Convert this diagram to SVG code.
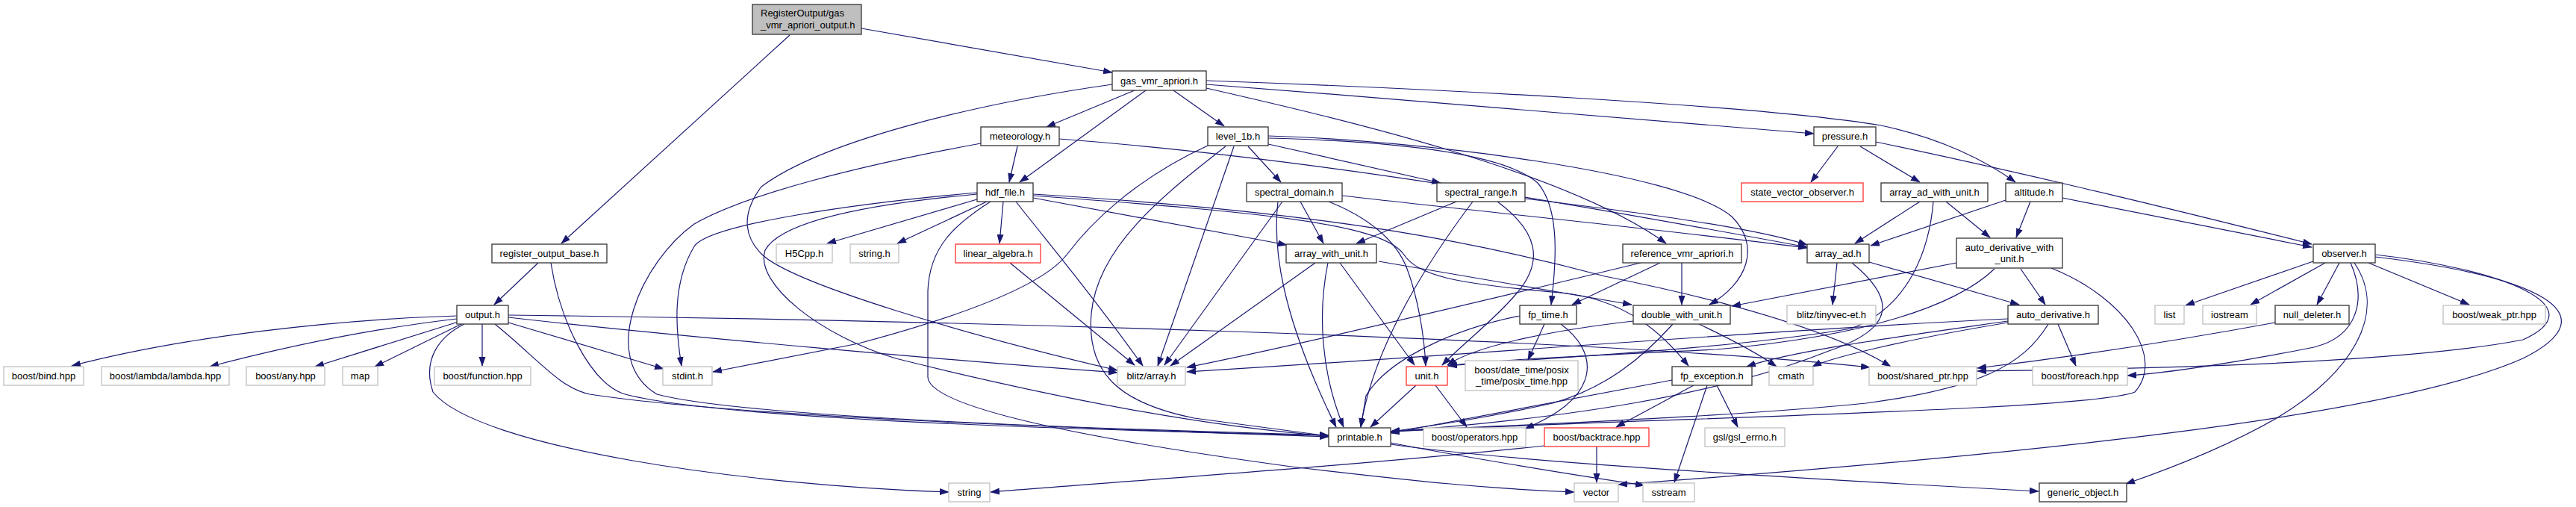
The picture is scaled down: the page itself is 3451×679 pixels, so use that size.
<svg xmlns="http://www.w3.org/2000/svg" width="3451" height="679" viewBox="0 0 3451 679">
<defs>
<marker id="ah" markerWidth="13" markerHeight="10" refX="12" refY="5" orient="auto" markerUnits="userSpaceOnUse"><path d="M0,0.5 L13,5 L0,9.5 z" fill="#191970"/></marker>
<style>
.n rect{fill:#fff;stroke:#333;stroke-width:1.3}
.g rect{fill:#fff;stroke:#c0c0c0;stroke-width:1.3}
.r rect{fill:#fff;stroke:#ff3030;stroke-width:1.3}
.root rect{fill:#bfbfbf;stroke:#333;stroke-width:1.3}
text{font-family:"Liberation Sans",Arial,sans-serif;font-size:13px;fill:#000;text-anchor:middle}
#edges path{fill:none;stroke:#191970;stroke-width:1.2;marker-end:url(#ah)}
</style>
</defs>
<rect width="3451" height="679" fill="#fff"/>
<g id="edges">
<path d="M1058,47 L752,326"/>
<path d="M1154,38 L1490,97"/>
<path d="M721,352 L662,408"/>
<path d="M738,352 C750,430 790,510 834,527 C950,560 1400,575 1780,583"/>
<path d="M612,423 C450,428 250,450 96,490"/>
<path d="M612,427 C500,440 380,465 281,491"/>
<path d="M614,431 L422,491"/>
<path d="M618,434 L502,491"/>
<path d="M646,434 L646,490"/>
<path d="M681,432 L889,494"/>
<path d="M681,425 C900,450 1300,485 1497,499"/>
<path d="M681,422 C1200,428 2100,450 2505,492"/>
<path d="M663,434 C720,480 750,520 790,528 C1000,560 1500,575 1780,585"/>
<path d="M622,434 C590,450 565,480 580,525 C640,600 1000,650 1271,659"/>
<path d="M1520,121 L1402,170"/>
<path d="M1535,121 L1366,244"/>
<path d="M1572,121 L1640,169"/>
<path d="M1616,113 C1900,135 2200,160 2430,179"/>
<path d="M1616,108 C1900,118 2350,140 2520,168 C2600,185 2660,215 2700,244"/>
<path d="M1616,118 C1800,160 2100,230 2232,326"/>
<path d="M1490,113 C1300,140 1100,190 1020,250 C990,290 1000,320 1020,340 C1060,380 1300,450 1497,496"/>
<path d="M1363,196 L1352,244"/>
<path d="M1314,192 C1150,222 1000,260 930,300 C860,350 800,480 880,528 C1000,560 1500,575 1780,583"/>
<path d="M1419,186 C1800,215 2200,290 2421,331"/>
<path d="M1309,267 L1108,326"/>
<path d="M1322,270 L1202,326"/>
<path d="M1344,270 L1339,326"/>
<path d="M1309,258 C1150,272 950,300 930,330 C900,380 905,440 913,490"/>
<path d="M1361,270 C1400,320 1460,390 1531,490"/>
<path d="M1327,270 C1280,300 1245,330 1243,390 L1243,505 C1245,540 1400,580 1730,625 C1900,645 2000,655 2109,659"/>
<path d="M1309,260 C1200,270 1050,290 1025,335 C1010,380 1100,450 1200,480 C1400,530 1600,570 1780,584"/>
<path d="M1384,265 L1724,328"/>
<path d="M1384,260 C1800,285 2000,330 2150,370 C2300,400 2450,440 2533,491"/>
<path d="M1384,262 C1700,285 1850,300 1880,340 C1900,370 1950,380 2090,392 C2180,400 2230,450 2262,490"/>
<path d="M1353,352 L1520,489"/>
<path d="M1672,196 L1716,244"/>
<path d="M1699,193 L1930,245"/>
<path d="M1699,185 C1900,190 2020,210 2060,245 C2090,280 2085,350 2078,408"/>
<path d="M1642,196 C1560,260 1470,330 1462,420 C1455,500 1500,540 1600,560 L1780,584"/>
<path d="M1653,196 L1551,490"/>
<path d="M1618,195 C1520,240 1460,300 1430,340 C1400,380 1300,420 1150,460 L955,498"/>
<path d="M1699,182 C1900,188 2250,230 2320,290 C2360,330 2340,380 2290,408"/>
<path d="M1742,270 L1773,326"/>
<path d="M1780,270 C1830,290 1870,320 1885,360 C1900,400 1908,450 1910,490"/>
<path d="M1798,262 C2000,285 2250,310 2421,332"/>
<path d="M1718,270 L1560,489"/>
<path d="M1712,270 C1705,330 1715,420 1790,572"/>
<path d="M1951,270 L1817,326"/>
<path d="M1973,270 C1920,340 1840,460 1823,572"/>
<path d="M2006,270 C2060,310 2070,350 2030,395 C2000,430 1960,460 1932,489"/>
<path d="M2043,266 C2200,285 2350,305 2421,328"/>
<path d="M1762,352 L1568,490"/>
<path d="M1779,352 C1765,420 1770,500 1800,572"/>
<path d="M1795,352 L1895,489"/>
<path d="M1847,350 L2186,408"/>
<path d="M2198,352 C2000,400 1750,460 1590,492"/>
<path d="M2224,352 L2106,408"/>
<path d="M2253,352 L2253,408"/>
<path d="M2036,423 C1950,440 1860,480 1830,530 L1823,572"/>
<path d="M2069,434 L2047,482"/>
<path d="M2091,434 C2140,470 2150,530 2043,574"/>
<path d="M1897,516 L1836,572"/>
<path d="M1923,516 L1965,572"/>
<path d="M2188,430 C2100,440 1980,460 1939,489"/>
<path d="M2241,434 C2200,480 2150,520 2080,540 C1990,560 1920,570 1863,578"/>
<path d="M2276,434 C2310,450 2350,470 2380,491"/>
<path d="M2240,509 L1863,580"/>
<path d="M2269,516 L2165,572"/>
<path d="M2287,516 L2243,646"/>
<path d="M2300,516 L2328,572"/>
<path d="M2139,598 L2139,646"/>
<path d="M2069,597 C1800,625 1500,645 1327,659"/>
<path d="M1863,593 C1950,610 2100,635 2203,650"/>
<path d="M1863,595 C2000,615 2300,635 2731,658"/>
<path d="M2462,196 L2426,244"/>
<path d="M2492,196 L2572,244"/>
<path d="M2513,190 C2750,240 2950,290 3097,327"/>
<path d="M2572,270 L2485,326"/>
<path d="M2607,270 L2666,318"/>
<path d="M2590,270 C2585,330 2560,410 2480,440 C2300,470 2050,480 1940,490"/>
<path d="M2687,268 L2506,329"/>
<path d="M2720,270 L2701,318"/>
<path d="M2763,265 L3097,331"/>
<path d="M2461,352 L2455,408"/>
<path d="M2504,351 L2705,408"/>
<path d="M2481,352 C2540,400 2540,440 2450,470 C2300,530 2100,560 1863,578"/>
<path d="M2621,352 L2320,410"/>
<path d="M2707,360 L2740,408"/>
<path d="M2672,360 C2620,410 2500,450 2300,468 C2100,478 2000,482 1940,490"/>
<path d="M2748,359 C2850,400 2900,480 2860,525 C2800,550 2200,560 1863,578"/>
<path d="M2690,427 C2400,440 1900,480 1590,498"/>
<path d="M2690,430 C2550,450 2400,470 2340,491"/>
<path d="M2690,432 C2550,455 2450,480 2428,491"/>
<path d="M2757,434 L2781,490"/>
<path d="M2744,434 C2710,490 2650,520 2500,540 C2300,560 2000,570 1863,578"/>
<path d="M3099,350 L2928,409"/>
<path d="M3115,352 L3015,408"/>
<path d="M3134,352 L3104,408"/>
<path d="M3173,352 L3308,408"/>
<path d="M3149,352 C3170,400 3160,450 3100,465 C3000,485 2900,500 2850,503"/>
<path d="M3154,352 C3200,420 3150,500 3050,560 C2980,600 2900,630 2848,648"/>
<path d="M3182,344 C3400,370 3500,420 3380,480 C3200,560 2700,610 2168,649"/>
<path d="M3182,341 C3350,360 3480,410 3380,455 C3200,490 2800,495 2649,497"/>
<path d="M3048,432 C2950,450 2800,475 2649,493"/>
</g>
<g id="n_root" class="root"><rect x="1008" y="6" width="146" height="40"/><text x="1019" y="22" style="text-anchor:start">RegisterOutput/gas</text><text x="1019" y="38" style="text-anchor:start">_vmr_apriori_output.h</text></g>
<g id="n_gas_vmr_apriori" class="n"><rect x="1490" y="95" width="126" height="26"/><text x="1553" y="112.5">gas_vmr_apriori.h</text></g>
<g id="n_meteorology" class="n"><rect x="1314" y="170" width="105" height="25"/><text x="1366.5" y="187">meteorology.h</text></g>
<g id="n_level_1b" class="n"><rect x="1618" y="170" width="81" height="25"/><text x="1658.5" y="187">level_1b.h</text></g>
<g id="n_pressure" class="n"><rect x="2430" y="170" width="83" height="25"/><text x="2471.5" y="187">pressure.h</text></g>
<g id="n_hdf_file" class="n"><rect x="1309" y="245" width="75" height="25"/><text x="1346.5" y="262">hdf_file.h</text></g>
<g id="n_spectral_domain" class="n"><rect x="1670" y="245" width="128" height="25"/><text x="1734" y="262">spectral_domain.h</text></g>
<g id="n_spectral_range" class="n"><rect x="1925" y="245" width="118" height="25"/><text x="1984" y="262">spectral_range.h</text></g>
<g id="n_state_vector_observer" class="r"><rect x="2333" y="245" width="163" height="25"/><text x="2414.5" y="262">state_vector_observer.h</text></g>
<g id="n_array_ad_with_unit" class="n"><rect x="2520" y="245" width="143" height="25"/><text x="2591.5" y="262">array_ad_with_unit.h</text></g>
<g id="n_altitude" class="n"><rect x="2687" y="245" width="76" height="25"/><text x="2725" y="262">altitude.h</text></g>
<g id="n_register_output_base" class="n"><rect x="659" y="327" width="154" height="25"/><text x="736" y="344">register_output_base.h</text></g>
<g id="n_H5Cpp" class="g"><rect x="1040" y="327" width="75" height="25"/><text x="1077.5" y="344">H5Cpp.h</text></g>
<g id="n_string_h" class="g"><rect x="1139" y="327" width="65" height="25"/><text x="1171.5" y="344">string.h</text></g>
<g id="n_linear_algebra" class="r"><rect x="1280" y="327" width="114" height="25"/><text x="1337" y="344">linear_algebra.h</text></g>
<g id="n_array_with_unit" class="n"><rect x="1723" y="327" width="121" height="25"/><text x="1783.5" y="344">array_with_unit.h</text></g>
<g id="n_reference_vmr_apriori" class="n"><rect x="2174" y="327" width="159" height="25"/><text x="2253.5" y="344">reference_vmr_apriori.h</text></g>
<g id="n_array_ad" class="n"><rect x="2421" y="327" width="83" height="25"/><text x="2462.5" y="344">array_ad.h</text></g>
<g id="n_auto_derivative_with_unit" class="n"><rect x="2621" y="319" width="142" height="40"/><text x="2692" y="336">auto_derivative_with</text><text x="2692" y="351">_unit.h</text></g>
<g id="n_observer" class="n"><rect x="3099" y="327" width="83" height="25"/><text x="3140.5" y="344">observer.h</text></g>
<g id="n_output" class="n"><rect x="612" y="409" width="69" height="25"/><text x="646.5" y="426">output.h</text></g>
<g id="n_fp_time" class="n"><rect x="2036" y="409" width="76" height="25"/><text x="2074" y="426">fp_time.h</text></g>
<g id="n_double_with_unit" class="n"><rect x="2188" y="409" width="130" height="25"/><text x="2253" y="426">double_with_unit.h</text></g>
<g id="n_tinyvec" class="g"><rect x="2394" y="409" width="119" height="25"/><text x="2453.5" y="426">blitz/tinyvec-et.h</text></g>
<g id="n_auto_derivative" class="n"><rect x="2690" y="409" width="121" height="25"/><text x="2750.5" y="426">auto_derivative.h</text></g>
<g id="n_list" class="g"><rect x="2887" y="409" width="39" height="25"/><text x="2906.5" y="426">list</text></g>
<g id="n_iostream" class="g"><rect x="2951" y="409" width="72" height="25"/><text x="2987" y="426">iostream</text></g>
<g id="n_null_deleter" class="n"><rect x="3048" y="409" width="99" height="25"/><text x="3097.5" y="426">null_deleter.h</text></g>
<g id="n_weak_ptr" class="g"><rect x="3273" y="409" width="137" height="25"/><text x="3341.5" y="426">boost/weak_ptr.hpp</text></g>
<g id="n_bind" class="g"><rect x="5" y="491" width="107" height="25"/><text x="58.5" y="508">boost/bind.hpp</text></g>
<g id="n_lambda" class="g"><rect x="136" y="491" width="171" height="25"/><text x="221.5" y="508">boost/lambda/lambda.hpp</text></g>
<g id="n_any" class="g"><rect x="330" y="491" width="105" height="25"/><text x="382.5" y="508">boost/any.hpp</text></g>
<g id="n_map" class="g"><rect x="459" y="491" width="47" height="25"/><text x="482.5" y="508">map</text></g>
<g id="n_function" class="g"><rect x="582" y="491" width="129" height="25"/><text x="646.5" y="508">boost/function.hpp</text></g>
<g id="n_stdint" class="g"><rect x="888" y="491" width="66" height="25"/><text x="921" y="508">stdint.h</text></g>
<g id="n_blitz_array" class="g"><rect x="1497" y="491" width="91" height="25"/><text x="1542.5" y="508">blitz/array.h</text></g>
<g id="n_unit" class="r"><rect x="1884" y="491" width="55" height="25"/><text x="1911.5" y="508">unit.h</text></g>
<g id="n_posix_time" class="g"><rect x="1963" y="483" width="151" height="40"/><text x="2038.5" y="500">boost/date_time/posix</text><text x="2038.5" y="515">_time/posix_time.hpp</text></g>
<g id="n_fp_exception" class="n"><rect x="2240" y="491" width="107" height="25"/><text x="2293.5" y="508">fp_exception.h</text></g>
<g id="n_cmath" class="g"><rect x="2370" y="491" width="59" height="25"/><text x="2399.5" y="508">cmath</text></g>
<g id="n_shared_ptr" class="g"><rect x="2504" y="491" width="144" height="25"/><text x="2576" y="508">boost/shared_ptr.hpp</text></g>
<g id="n_foreach" class="g"><rect x="2723" y="491" width="127" height="25"/><text x="2786.5" y="508">boost/foreach.hpp</text></g>
<g id="n_printable" class="n"><rect x="1780" y="573" width="83" height="25"/><text x="1821.5" y="590">printable.h</text></g>
<g id="n_operators" class="g"><rect x="1907" y="573" width="137" height="25"/><text x="1975.5" y="590">boost/operators.hpp</text></g>
<g id="n_backtrace" class="r"><rect x="2069" y="573" width="140" height="25"/><text x="2139" y="590">boost/backtrace.hpp</text></g>
<g id="n_gsl_errno" class="g"><rect x="2284" y="573" width="107" height="25"/><text x="2337.5" y="590">gsl/gsl_errno.h</text></g>
<g id="n_string" class="g"><rect x="1271" y="647" width="55" height="25"/><text x="1298.5" y="664">string</text></g>
<g id="n_vector" class="g"><rect x="2109" y="647" width="59" height="25"/><text x="2138.5" y="664">vector</text></g>
<g id="n_sstream" class="g"><rect x="2201" y="647" width="69" height="25"/><text x="2235.5" y="664">sstream</text></g>
<g id="n_generic_object" class="n"><rect x="2732" y="647" width="117" height="25"/><text x="2790.5" y="664">generic_object.h</text></g>
</svg>
